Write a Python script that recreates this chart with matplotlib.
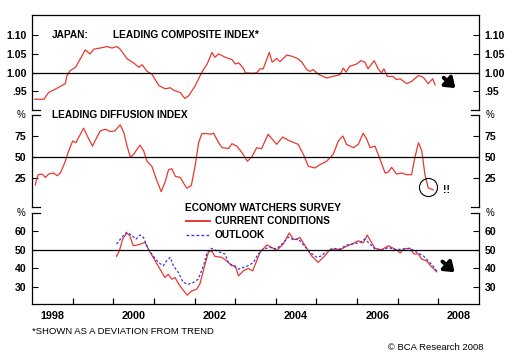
import matplotlib
matplotlib.use('Agg')
import matplotlib.pyplot as plt
from matplotlib.ticker import FixedLocator, FuncFormatter

plt.rcParams['font.family'] = ['Liberation Sans', 'DejaVu Sans']

# ---- data ----
lci_dates = [1998.07, 1998.30, 1998.33, 1998.41, 1998.57, 1998.82, 1998.86, 1998.94, 1999.07, 1999.23,
             1999.31, 1999.43, 1999.52, 1999.68, 1999.85, 1999.97, 2000.09, 2000.17, 2000.34, 2000.50,
             2000.63, 2000.71, 2000.83, 2000.95, 2001.12, 2001.28, 2001.40, 2001.49, 2001.65, 2001.76,
             2001.86, 2002.02, 2002.18, 2002.31, 2002.43, 2002.50, 2002.59, 2002.76, 2002.92, 2003.00,
             2003.09, 2003.21, 2003.25, 2003.41, 2003.53, 2003.61, 2003.69, 2003.84, 2003.91, 2004.02,
             2004.10, 2004.27, 2004.39, 2004.55, 2004.64, 2004.76, 2004.84, 2004.92, 2005.04, 2005.25,
             2005.41, 2005.58, 2005.66, 2005.73, 2005.82, 2005.99, 2006.09, 2006.19, 2006.27, 2006.42,
             2006.52, 2006.60, 2006.66, 2006.74, 2006.89, 2006.97, 2007.06, 2007.22, 2007.34, 2007.51,
             2007.63, 2007.75, 2007.86, 2007.92]
lci_vals = [0.928, 0.928, 0.934, 0.946, 0.955, 0.970, 0.992, 1.005, 1.014, 1.045,
            1.061, 1.050, 1.063, 1.066, 1.070, 1.066, 1.070, 1.063, 1.037, 1.026,
            1.014, 1.021, 1.003, 0.996, 0.965, 0.956, 0.959, 0.952, 0.946, 0.930,
            0.938, 0.965, 1.001, 1.023, 1.054, 1.041, 1.050, 1.041, 1.035, 1.023,
            1.026, 1.010, 0.999, 0.998, 0.999, 1.010, 1.010, 1.054, 1.028, 1.038,
            1.029, 1.047, 1.044, 1.037, 1.028, 1.008, 1.003, 1.008, 0.996, 0.985,
            0.990, 0.994, 1.012, 1.001, 1.017, 1.023, 1.032, 1.028, 1.010, 1.032,
            1.010, 0.999, 1.010, 0.990, 0.989, 0.981, 0.983, 0.970, 0.976, 0.992,
            0.987, 0.970, 0.983, 0.967]

ldi_dates = [1998.08, 1998.15, 1998.25, 1998.33, 1998.41, 1998.53, 1998.62, 1998.70, 1998.82, 1998.90,
             1999.00, 1999.08, 1999.19, 1999.27, 1999.38, 1999.49, 1999.57, 1999.68, 1999.80, 1999.93,
             2000.04, 2000.17, 2000.26, 2000.34, 2000.42, 2000.50, 2000.58, 2000.66, 2000.75, 2000.83,
             2000.95, 2001.08, 2001.18, 2001.28, 2001.36, 2001.44, 2001.53, 2001.65, 2001.73, 2001.81,
             2001.92, 2002.02, 2002.10, 2002.18, 2002.31, 2002.39, 2002.47, 2002.59, 2002.68, 2002.84,
             2002.92, 2003.04, 2003.17, 2003.30, 2003.41, 2003.53, 2003.65, 2003.81, 2004.02, 2004.17,
             2004.31, 2004.55, 2004.68, 2004.80, 2004.96, 2005.09, 2005.25, 2005.41, 2005.54, 2005.65,
             2005.74, 2005.91, 2006.03, 2006.15, 2006.24, 2006.32, 2006.44, 2006.52, 2006.69, 2006.77,
             2006.85, 2006.97, 2007.10, 2007.22, 2007.34, 2007.42, 2007.51, 2007.59, 2007.67, 2007.75,
             2007.87]
ldi_vals = [16.5, 28.6, 29.4, 25.3, 29.4, 30.6, 27.4, 30.6, 44.7, 56.8,
            68.9, 66.9, 77.0, 84.2, 73.0, 62.8, 70.9, 81.0, 83.0, 80.2,
            81.0, 88.3, 79.0, 62.8, 49.5, 52.8, 58.8, 64.0, 56.8, 44.7,
            38.6, 20.5, 8.4, 20.5, 34.6, 35.8, 26.5, 25.3, 18.5, 12.5,
            15.6, 40.7, 66.9, 77.8, 77.8, 77.0, 78.2, 66.9, 60.9, 60.0,
            65.7, 62.8, 54.8, 44.7, 50.0, 60.9, 59.7, 77.0, 64.9, 73.7,
            69.7, 64.9, 52.8, 38.6, 36.7, 40.7, 44.7, 52.8, 68.9, 74.9,
            64.9, 60.9, 64.9, 78.2, 70.9, 60.9, 62.8, 52.8, 30.6, 31.9,
            37.4, 29.4, 30.6, 28.6, 28.6, 48.8, 66.9, 57.6, 28.6, 13.0,
            10.5]

cur_dates = [2000.08, 2000.15, 2000.23, 2000.33, 2000.41, 2000.49, 2000.62, 2000.78, 2000.90, 2001.03,
             2001.15, 2001.27, 2001.35, 2001.44, 2001.52, 2001.64, 2001.82, 2001.93, 2002.05, 2002.13,
             2002.26, 2002.34, 2002.42, 2002.50, 2002.67, 2002.79, 2002.91, 2003.00, 2003.08, 2003.20,
             2003.32, 2003.43, 2003.53, 2003.61, 2003.78, 2003.90, 2004.02, 2004.18, 2004.33, 2004.43,
             2004.51, 2004.59, 2004.72, 2004.88, 2005.04, 2005.17, 2005.33, 2005.46, 2005.58, 2005.74,
             2005.87, 2006.03, 2006.15, 2006.25, 2006.36, 2006.44, 2006.60, 2006.77, 2006.89, 2006.97,
             2007.06, 2007.14, 2007.30, 2007.40, 2007.51, 2007.59, 2007.71, 2007.81, 2007.96]
cur_vals = [46.4, 49.5, 55.8, 59.1, 57.6, 52.2, 52.7, 54.0, 48.9, 44.0,
            39.5, 34.9, 36.7, 34.0, 34.9, 30.3, 25.3, 27.6, 28.5, 31.3,
            42.2, 48.6, 49.5, 46.4, 45.9, 44.0, 41.3, 41.3, 35.8, 38.5,
            39.8, 38.5, 44.0, 48.6, 52.6, 51.3, 49.5, 53.1, 59.1, 55.8,
            55.5, 56.8, 52.2, 46.7, 43.1, 45.9, 50.0, 50.4, 50.0, 51.9,
            53.1, 54.9, 53.7, 58.0, 53.7, 50.8, 50.0, 52.2, 50.8, 50.0,
            48.2, 50.4, 50.8, 47.7, 47.7, 44.9, 44.0, 41.3, 38.0]

out_dates = [2000.08, 2000.21, 2000.33, 2000.45, 2000.56, 2000.66, 2000.74, 2000.86, 2000.98, 2001.11,
             2001.23, 2001.31, 2001.40, 2001.48, 2001.60, 2001.72, 2001.85, 2001.97, 2002.09, 2002.22,
             2002.31, 2002.40, 2002.50, 2002.63, 2002.75, 2002.83, 2002.95, 2003.08, 2003.20, 2003.32,
             2003.45, 2003.57, 2003.69, 2003.86, 2004.02, 2004.18, 2004.31, 2004.43, 2004.55, 2004.68,
             2004.84, 2005.01, 2005.13, 2005.25, 2005.41, 2005.58, 2005.74, 2005.91, 2006.07, 2006.19,
             2006.32, 2006.44, 2006.60, 2006.77, 2006.93, 2007.10, 2007.30, 2007.47, 2007.63, 2007.79,
             2007.92, 2007.97]
out_vals = [53.1, 56.8, 59.5, 58.0, 55.8, 58.0, 56.8, 50.4, 46.7, 43.1,
            41.3, 44.0, 45.9, 41.3, 37.7, 32.2, 31.3, 32.2, 34.0, 41.3,
            48.6, 50.8, 50.0, 48.6, 47.7, 43.1, 41.3, 39.5, 40.4, 41.3,
            43.1, 47.7, 50.4, 51.3, 50.4, 53.7, 56.8, 55.5, 56.0, 52.6,
            48.6, 45.9, 46.7, 49.5, 50.8, 50.4, 52.6, 53.1, 54.0, 55.8,
            53.1, 50.4, 49.5, 51.3, 50.0, 50.4, 50.8, 48.6, 46.7, 43.1,
            39.8, 37.7]

year_ticks = list(range(1999, 2009))
year_labels = ['1998', '2000', '2002', '2004', '2006', '2008']

RED = '#e8382f'
BLUE = '#3838e0'
W, H = 516, 358

fig = plt.figure(figsize=(W / 100, H / 100), dpi=100)

def fx(px):
    return px / W

def fy(py):
    return 1 - py / H

ax1 = fig.add_axes([fx(32), fy(110), 447 / W, 95 / H])
ax2 = fig.add_axes([fx(32), fy(207), 447 / W, 92 / H])
ax3 = fig.add_axes([fx(32), fy(304), 447 / W, 91 / H])
axes = [ax1, ax2, ax3]

for ax in axes:
    ax.set_xlim(1998, 2009)
    ax.tick_params(axis='y', which='both', direction='in', length=4, width=0.8,
                   left=True, right=True, labelleft=True, labelright=True,
                   labelsize=7.6, pad=4)
    ax.spines['left'].set_linewidth(0.9)
    ax.spines['right'].set_linewidth(0.9)
    ax.spines['top'].set_visible(False)
    ax.spines['bottom'].set_visible(False)
    ax.set_xticks([])

ax1.spines['top'].set_visible(True)
ax1.spines['top'].set_linewidth(0.9)
ax3.spines['bottom'].set_visible(True)
ax3.spines['bottom'].set_linewidth(0.9)

# panel 1
ax1.plot(lci_dates, lci_vals, color=RED, lw=0.9)
ax1.axhline(1.0, color='black', lw=0.9)
ax1.set_ylim(0.899, 1.155)
ax1.set_yticks([0.95, 1.00, 1.05, 1.10])
ax1.yaxis.set_major_formatter(FuncFormatter(lambda v, p: ('%.2f' % v).lstrip('0')))

# panel 2
ax2.plot(ldi_dates, ldi_vals, color=RED, lw=0.9)
ax2.axhline(50, color='black', lw=0.9)
ax2.set_ylim(-10, 100)
ax2.set_yticks([25, 50, 75])

# panel 3
ax3.plot(cur_dates, cur_vals, color=RED, lw=0.9)
ax3.plot(out_dates, out_vals, color=BLUE, lw=0.9, ls=(0, (2, 1.6)))
ax3.axhline(50, color='black', lw=0.9)
ax3.set_ylim(20.5, 70)
ax3.set_yticks([30, 40, 50, 60])

ax3.xaxis.set_major_locator(FixedLocator(year_ticks))
ax3.xaxis.set_minor_locator(FixedLocator([int(y) + 0.5 for y in year_labels]))
ax3.xaxis.set_minor_formatter(FuncFormatter(lambda v, p: str(int(v))))
ax3.tick_params(axis='x', which='major', direction='in', length=4.5, width=0.9,
                labelbottom=False)
ax3.tick_params(axis='x', which='minor', length=0, labelsize=7.8, pad=5)

for ax in axes:
    for lab in ax.get_yticklabels():
        lab.set_fontweight('bold')
for lab in ax3.get_xticklabels(minor=True):
    lab.set_fontweight('bold')

# small caps at the broken axis ends
cap = 8 / 447
for ax, ends in [(ax1, [0]), (ax2, [0, 1]), (ax3, [1])]:
    for e in ends:
        ax.plot([0, cap], [e, e], color='black', lw=0.9, transform=ax.transAxes, clip_on=False)
        ax.plot([1 - cap, 1], [e, e], color='black', lw=0.9, transform=ax.transAxes, clip_on=False)

# arrows
arrow = dict(arrowstyle='-|>,head_length=0.55,head_width=0.4', lw=2.8,
             color='black', shrinkA=0, shrinkB=0)
ax1.annotate('', xy=(2008.42, 0.958), xytext=(2008.13, 0.986), arrowprops=arrow)
ax3.annotate('', xy=(2008.40, 37.8), xytext=(2008.10, 43.6), arrowprops=arrow)

# circle around last diffusion readings
ax2.plot([ldi_dates[-2]], [ldi_vals[-2] + 0.5], 'o', ms=13, mfc='none', mec='black', mew=0.8)
fig.text(fx(447), fy(190), '!!', fontsize=7.5, fontweight='bold', ha='center', va='center')

# titles
bold = dict(fontsize=7.3, fontweight='bold', va='center')
fig.text(fx(52), fy(35), 'JAPAN:', **bold)
fig.text(fx(113), fy(35), 'LEADING COMPOSITE INDEX*', **bold)
fig.text(fx(52), fy(115), 'LEADING DIFFUSION INDEX', **bold)
fig.text(fx(185), fy(208), 'ECONOMY WATCHERS SURVEY', **bold)
fig.text(fx(215), fy(221), 'CURRENT CONDITIONS', **bold)
fig.text(fx(215), fy(235), 'OUTLOOK', **bold)
fig.add_artist(plt.Line2D([fx(186), fx(210)], [fy(221), fy(221)], color=RED, lw=1.4))
fig.add_artist(plt.Line2D([fx(186), fx(210)], [fy(235), fy(235)], color=BLUE, lw=1.0,
                          ls=(0, (2, 1.6))))

for py in (115, 213):
    fig.text(fx(21), fy(py), '%', fontsize=7, ha='center', va='center')
    fig.text(fx(490), fy(py), '%', fontsize=7, ha='center', va='center')

fig.text(fx(32), fy(331), '*SHOWN AS A DEVIATION FROM TREND', fontsize=6.8, va='center')
fig.text(fx(483), fy(347), '\u00a9 BCA Research 2008', fontsize=6.8, ha='right', va='center')

fig.savefig('out.png', dpi=100)
